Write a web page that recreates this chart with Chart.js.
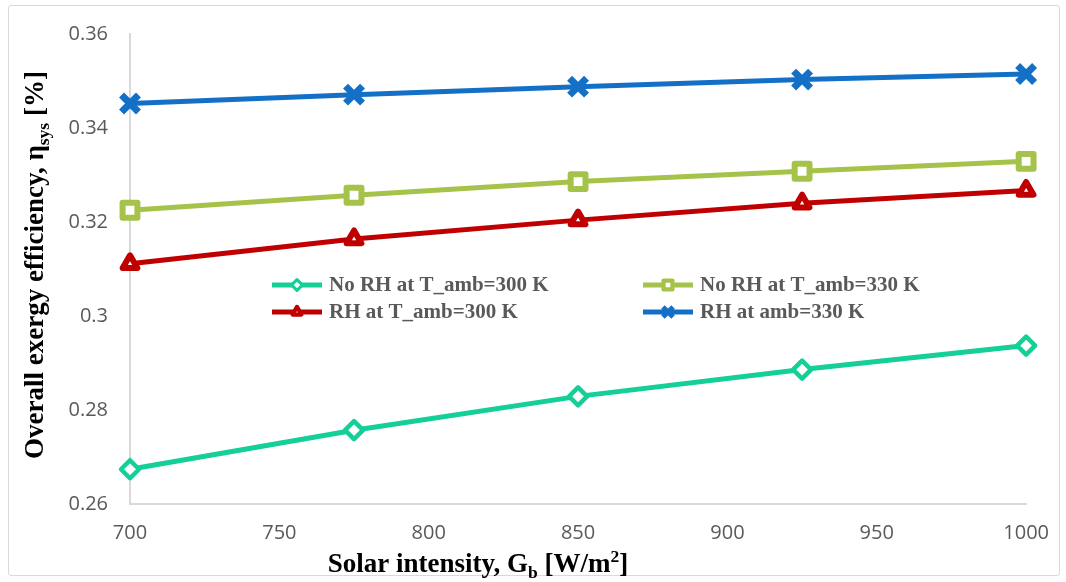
<!DOCTYPE html>
<html>
<head>
<meta charset="utf-8">
<script src="https://cdn.jsdelivr.net/npm/chart.js@4/dist/chart.umd.min.js"></script>
<style>
  html, body { margin: 0; padding: 0; background: #fff; }
  #frame { position: absolute; left: 8px; top: 5px; width: 1050px; height: 569px; border: 1px solid #d9d9d9; border-radius: 3px; }
  #chart { position: absolute; left: 0; top: 0; }
</style>
</head>
<body>
<div id="frame"></div>
<canvas id="chart" width="1066" height="582"></canvas>
<script>
// data
const solarIntensity = [700, 775, 850, 925, 1000];
const noRh300 = [0.2674, 0.2757, 0.2829, 0.2886, 0.2937];
const noRh330 = [0.3225, 0.3257, 0.3286, 0.3308, 0.3329];
const rh300 = [0.3111, 0.3164, 0.3204, 0.3240, 0.3267];
const rh330 = [0.3452, 0.3471, 0.3488, 0.3503, 0.3515];
const seriesNames = ['No RH at T_amb=300 K', 'No RH at T_amb=330 K', 'RH at T_amb=300 K', 'RH at amb=330 K'];
const yTickValues = [0.26, 0.28, 0.30, 0.32, 0.34, 0.36];
const yTickLabels = ['0.26', '0.28', '0.3', '0.32', '0.34', '0.36'];
const xTickLabels = ['700', '750', '800', '850', '900', '950', '1000'];

const serif = '"Liberation Serif", "Times New Roman", serif';
const toXY = vals => vals.map((v, i) => ({ x: solarIntensity[i], y: v }));

const makeSet = (label, data, color, style, radius, bw, fill) => ({
  label,
  data: toXY(data),
  borderColor: color,
  backgroundColor: fill,
  borderWidth: 5,
  borderJoinStyle: 'round',
  pointStyle: style,
  pointRadius: radius,
  pointHoverRadius: radius,
  pointBorderWidth: bw,
  pointBorderColor: color,
  pointBackgroundColor: fill,
  clip: false,
  tension: 0
});

// rich text helper for titles with sub/superscripts
function drawRich(ctx, parts, cx, cy, size) {
  let total = 0;
  parts.forEach(p => {
    const s = p.sub || p.sup ? size * 0.65 : size;
    p.font = 'bold ' + s + 'px ' + serif;
    ctx.font = p.font;
    p.w = ctx.measureText(p.t).width;
    total += p.w;
  });
  let x = cx - total / 2;
  ctx.textBaseline = 'alphabetic';
  ctx.textAlign = 'left';
  parts.forEach(p => {
    ctx.font = p.font;
    let dy = 0;
    if (p.sub) dy = size * 0.22;
    if (p.sup) dy = -size * 0.38;
    ctx.fillText(p.t, x, cy + dy);
    x += p.w;
  });
}

const titlesPlugin = {
  id: 'titles',
  beforeDatasetsDraw(chart) {
    chart.ctx.lineJoin = 'round';
  },
  afterDraw(chart) {
    const ctx = chart.ctx;
    ctx.save();
    ctx.fillStyle = '#000';
    drawRich(ctx, [
      { t: 'Solar intensity, G' }, { t: 'b', sub: true }, { t: ' [W/m' }, { t: '2', sup: true }, { t: ']' }
    ], 478, 572, 27);
    ctx.translate(43, 265);
    ctx.rotate(-Math.PI / 2);
    drawRich(ctx, [
      { t: 'Overall exergy efficiency, η' }, { t: 'sys', sub: true }, { t: ' [%]' }
    ], 0, 0, 27);
    ctx.restore();
  }
};

const legendPlugin = {
  id: 'insideLegend',
  afterDatasetsDraw(chart) {
    const ctx = chart.ctx;
    const cols = [272, 643];
    const rows = [285, 312];
    ctx.save();
    ctx.lineJoin = 'round';
    chart.data.datasets.forEach((ds, i) => {
      const x0 = cols[i % 2];
      const y0 = rows[Math.floor(i / 2)];
      ctx.strokeStyle = ds.borderColor;
      ctx.lineWidth = 5;
      ctx.beginPath();
      ctx.moveTo(x0, y0);
      ctx.lineTo(x0 + 50, y0);
      ctx.stroke();
      ctx.fillStyle = ds.pointBackgroundColor;
      ctx.lineWidth = ds.pointBorderWidth * 0.7;
      Chart.helpers.drawPoint(ctx, {
        pointStyle: ds.pointStyle,
        radius: ds.pointRadius * 0.6,
        borderWidth: ds.pointBorderWidth * 0.7,
        rotation: 0
      }, x0 + 25, y0);
      ctx.fillStyle = '#595959';
      ctx.font = 'bold 21px ' + serif;
      ctx.textBaseline = 'middle';
      ctx.textAlign = 'left';
      ctx.fillText(ds.label, x0 + 57, y0 + 1);
    });
    ctx.restore();
  }
};

new Chart(document.getElementById('chart'), {
  type: 'line',
  data: {
    datasets: [
      makeSet(seriesNames[0], noRh300, '#14cf98', 'rectRot', 9, 4.5, '#ffffff'),
      makeSet(seriesNames[1], noRh330, '#a5c24a', 'rect', 10.5, 6, '#ffffff'),
      makeSet(seriesNames[2], rh300, '#c00000', 'triangle', 8.5, 6, '#ffffff'),
      makeSet(seriesNames[3], rh330, '#1470c6', 'crossRot', 12, 7, '#1470c6')
    ]
  },
  options: {
    responsive: false,
    animation: false,
    events: [],
    layout: { padding: { left: 0, right: 37, top: 30, bottom: 0 } },
    plugins: { legend: { display: false }, tooltip: { enabled: false } },
    scales: {
      x: {
        type: 'linear',
        min: 700,
        max: 1000,
        afterFit: s => { s.height = 78; },
        afterBuildTicks: s => { s.ticks = xTickLabels.map(v => ({ value: +v })); },
        ticks: {
          callback: (v, i) => xTickLabels[i],
          color: '#595959',
          font: { family: '"Open Sans", sans-serif', size: 20 },
          padding: 17,
          maxRotation: 0
        },
        grid: { display: false, drawTicks: false },
        border: { display: true, color: '#d9d9d9', width: 2 }
      },
      y: {
        min: 0.26,
        max: 0.36,
        afterFit: s => { s.width = 130; },
        afterBuildTicks: s => { s.ticks = yTickValues.map(v => ({ value: v })); },
        ticks: {
          callback: (v, i) => yTickLabels[i],
          color: '#595959',
          font: { family: '"Open Sans", sans-serif', size: 20 },
          padding: 22
        },
        grid: { display: false, drawTicks: false },
        border: { display: true, color: '#d9d9d9', width: 2 }
      }
    }
  },
  plugins: [legendPlugin, titlesPlugin]
});
</script>
</body>
</html>
